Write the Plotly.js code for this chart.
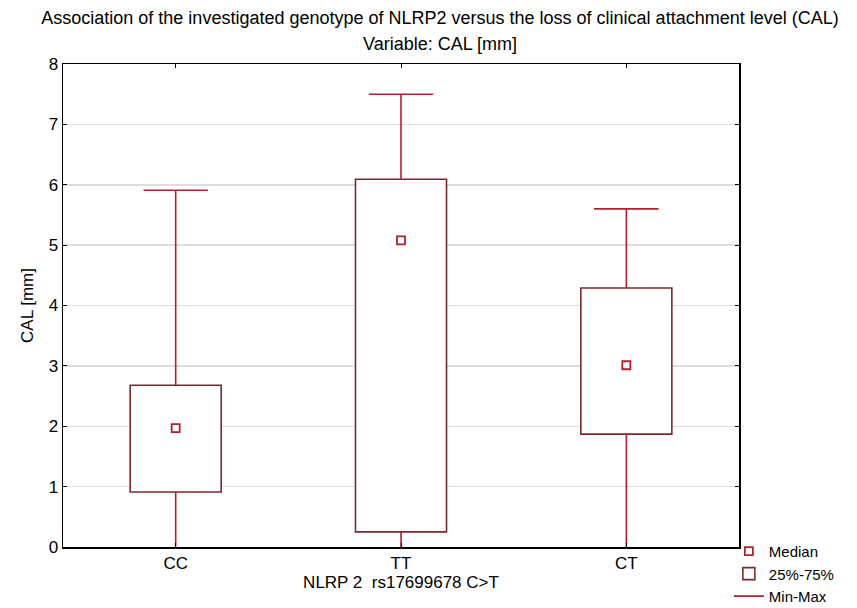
<!DOCTYPE html>
<html>
<head>
<meta charset="utf-8">
<script src="https://cdn.plot.ly/plotly-3.0.1.min.js"></script>
<style>html,body{margin:0;padding:0;background:#fff;}#chart{width:857px;height:608px;}</style>
</head>
<body>
<div id="chart"></div>
<script>
// Data (CAL in mm)
const categories = ["CC", "TT", "CT"];
const minValues = [0, 0, 0];
const q1Values = [0.91, 0.25, 1.87];
const medianValues = [1.97, 5.08, 3.01];
const q3Values = [2.68, 6.09, 4.29];
const maxValues = [5.91, 7.5, 5.6];
const yTickValues = [0, 1, 2, 3, 4, 5, 6, 7, 8];

const boxColor = "#7a2a2e";
const whiskerColor = "#b3202a";
const font = "Liberation Sans, Arial, sans-serif";

// whisker segments built from the data arrays
const wx = [], wy = [];
categories.forEach((c, i) => {
  wx.push(c, c, null, c, c, null);
  wy.push(q3Values[i], maxValues[i], null, q1Values[i], minValues[i], null);
});

const traces = [
  {
    type: "bar", name: "25%-75%", x: categories,
    y: q3Values.map((v, i) => v - q1Values[i]), base: q1Values,
    width: 0.404,
    marker: {color: "rgba(255,255,255,1)", line: {color: boxColor, width: 1.6}},
    legendrank: 2, hoverinfo: "skip"
  },
  {
    type: "scatter", mode: "lines", name: "Min-Max", x: wx, y: wy,
    line: {color: whiskerColor, width: 1.6}, legendrank: 3, connectgaps: false
  },
  {
    type: "scatter", mode: "markers", x: categories, y: maxValues, showlegend: false,
    marker: {symbol: "line-ew", size: 46, color: whiskerColor, line: {color: whiskerColor, width: 1.6}}
  },
  {
    type: "scatter", mode: "markers", name: "Median", x: categories, y: medianValues,
    marker: {symbol: "square-open", size: 8, color: whiskerColor, line: {width: 1.8, color: whiskerColor}},
    legendrank: 1
  }
];

const layout = {
  width: 857, height: 608,
  margin: {l: 63, r: 118, t: 64, b: 61, pad: 0, autoexpand: false},
  paper_bgcolor: "#ffffff", plot_bgcolor: "#ffffff",
  font: {family: font, size: 17, color: "#000"},
  barmode: "overlay",
  showlegend: true,
  legend: {
    x: 0.985, xanchor: "left", y: 0.025, yanchor: "top",
    font: {family: font, size: 15, color: "#000"},
    itemwidth: 30, tracegroupgap: 0, bgcolor: "rgba(0,0,0,0)"
  },
  title: {
    text: "Association of the investigated genotype of NLRP2 versus the loss of clinical attachment level (CAL)",
    x: 440 / 857, xanchor: "center", y: 1 - 18 / 608, yanchor: "middle",
    font: {family: font, size: 18, color: "#000"}
  },
  annotations: [{
    text: "Variable: CAL [mm]", xref: "paper", yref: "paper",
    x: (440 - 63) / 676, y: 1 + (64 - 44) / 483, xanchor: "center", yanchor: "middle",
    showarrow: false, font: {family: font, size: 18, color: "#000"}
  }],
  xaxis: {
    type: "category", categoryorder: "array", categoryarray: categories,
    range: [-0.5, 2.5], showgrid: false, zeroline: false,
    showline: true, linecolor: "#000", linewidth: 1.5, mirror: "ticks",
    ticks: "inside", ticklen: 4, tickcolor: "#000",
    tickfont: {family: font, size: 17, color: "#000"},
    title: {text: "NLRP 2  rs17699678 C>T", standoff: 0, font: {family: font, size: 17, color: "#000"}}
  },
  yaxis: {
    range: [0, 8], tickvals: yTickValues, ticktext: yTickValues.map(String),
    showgrid: true, gridcolor: "#dedede", gridwidth: 1.5, zeroline: false,
    showline: true, linecolor: "#000", linewidth: 1.5, mirror: "ticks",
    ticks: "inside", ticklen: 4, tickcolor: "#000",
    tickfont: {family: font, size: 17, color: "#000"},
    title: {text: "CAL [mm]", standoff: 10, font: {family: font, size: 17, color: "#000"}}
  }
};

Plotly.newPlot("chart", traces, layout, {displayModeBar: false, staticPlot: true});
</script>
</body>
</html>
